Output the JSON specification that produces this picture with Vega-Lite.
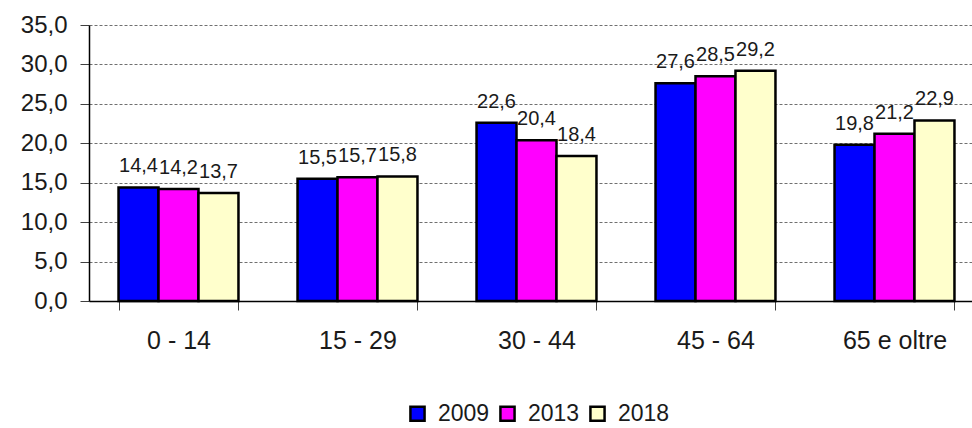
{
  "$schema": "https://vega.github.io/schema/vega-lite/v6.json",
  "width": 883,
  "height": 276,
  "autosize": {"type": "none"},
  "padding": {"left": 89, "top": 25, "right": 0, "bottom": 127},
  "background": "white",
  "config": {
    "view": {"stroke": null},
    "font": "Liberation Sans",
    "text": {"font": "Liberation Sans"},
    "locale": {
      "number": {"decimal": ",", "thousands": ".", "grouping": [3], "currency": ["€", ""]}
    }
  },
  "data": {
    "values": [
      {"eta": "0 - 14", "anno": "2009", "valore": 14.4},
      {"eta": "0 - 14", "anno": "2013", "valore": 14.2},
      {"eta": "0 - 14", "anno": "2018", "valore": 13.7},
      {"eta": "15 - 29", "anno": "2009", "valore": 15.5},
      {"eta": "15 - 29", "anno": "2013", "valore": 15.7},
      {"eta": "15 - 29", "anno": "2018", "valore": 15.8},
      {"eta": "30 - 44", "anno": "2009", "valore": 22.6},
      {"eta": "30 - 44", "anno": "2013", "valore": 20.4},
      {"eta": "30 - 44", "anno": "2018", "valore": 18.4},
      {"eta": "45 - 64", "anno": "2009", "valore": 27.6},
      {"eta": "45 - 64", "anno": "2013", "valore": 28.5},
      {"eta": "45 - 64", "anno": "2018", "valore": 29.2},
      {"eta": "65 e oltre", "anno": "2009", "valore": 19.8},
      {"eta": "65 e oltre", "anno": "2013", "valore": 21.2},
      {"eta": "65 e oltre", "anno": "2018", "valore": 22.9}
    ]
  },
  "encoding": {
    "x": {
      "field": "eta",
      "type": "nominal",
      "sort": null,
      "scale": {"range": [0, 895], "paddingInner": 0.33, "paddingOuter": 0.165},
      "axis": {
        "title": null,
        "labelAngle": 0,
        "labelFont": "Liberation Sans",
        "labelFontSize": 25,
        "labelColor": "#1a1a1a",
        "labelPadding": 18,
        "tickBand": "extent",
        "tickSize": 9,
        "tickColor": "#404040",
        "domainColor": "#000000",
        "domainWidth": 1.5,
        "grid": false
      }
    },
    "xOffset": {"field": "anno", "type": "nominal", "scale": {"paddingInner": 0, "paddingOuter": 0}},
    "y": {
      "field": "valore",
      "type": "quantitative",
      "scale": {"domain": [0, 35], "nice": false},
      "axis": {
        "title": null,
        "values": [0, 5, 10, 15, 20, 25, 30, 35],
        "format": ".1f",
        "labelFont": "Liberation Sans",
        "labelFontSize": 24,
        "labelColor": "#1a1a1a",
        "labelPadding": 13,
        "tickSize": 9,
        "tickColor": "#404040",
        "domainColor": "#000000",
        "domainWidth": 1.5,
        "grid": true,
        "gridColor": "#707070",
        "gridDash": [3, 2],
        "gridWidth": 1
      }
    }
  },
  "layer": [
    {
      "mark": {"type": "bar", "stroke": "#000000", "strokeWidth": 2.5},
      "encoding": {
        "color": {
          "field": "anno",
          "type": "nominal",
          "scale": {"domain": ["2009", "2013", "2018"], "range": ["#0000FF", "#FF00FF", "#FFFFCC"]},
          "legend": {
            "title": null,
            "orient": "none",
            "legendX": 317,
            "legendY": 377,
            "direction": "horizontal",
            "symbolType": "square",
            "symbolSize": 200,
            "symbolStrokeColor": "#000000",
            "symbolStrokeWidth": 2.5,
            "symbolOpacity": 1,
            "labelFont": "Liberation Sans",
            "labelFontSize": 23,
            "labelColor": "#1a1a1a",
            "labelOffset": 9,
            "columnPadding": 5
          }
        }
      }
    },
    {
      "mark": {"type": "text", "baseline": "alphabetic", "dy": -15, "fontSize": 20, "font": "Liberation Sans", "color": "#1a1a1a"},
      "encoding": {
        "text": {"field": "valore", "type": "quantitative", "format": ".1f"}
      }
    }
  ]
}
